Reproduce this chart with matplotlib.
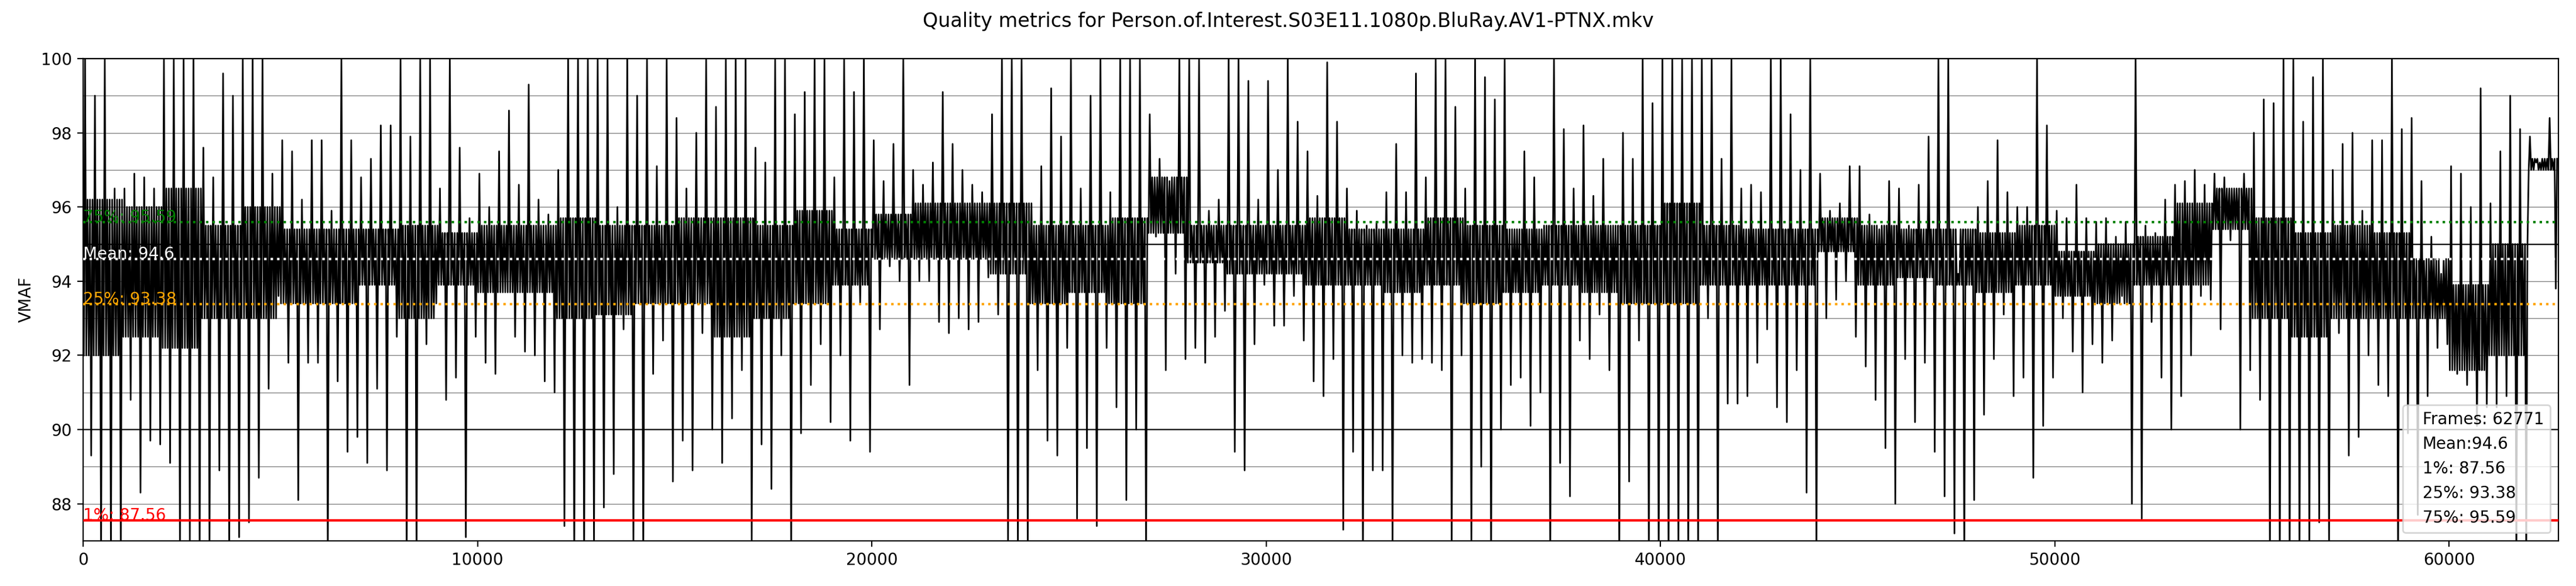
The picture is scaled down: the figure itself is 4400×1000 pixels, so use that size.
import numpy as np
import matplotlib
matplotlib.use('Agg')
import matplotlib.pyplot as plt
from matplotlib.lines import Line2D
from matplotlib.ticker import MultipleLocator

title = "Quality metrics for Person.of.Interest.S03E11.1080p.BluRay.AV1-PTNX.mkv"
frame_count = 62771
bin_size = 250    # frames per bin for the spike extremes
band_size = 1000  # frames per segment for the dense core band

mean_vmaf = 94.6
p1 = 87.56
p25 = 93.38
p75 = 95.59

# highest value seen in each 250 frame bin
vmaf_hi = [
    100, 99.0, 100, 96.5, 96.5, 96.9, 96.8, 96.5, 100, 100, 100, 100, 97.6, 96.8, 99.6, 99.0,
    100, 100, 100, 96.9, 97.8, 97.5, 96.2, 97.8, 97.8, 95.9, 100, 97.8, 96.8, 97.3, 98.2,
    98.2, 100, 97.9, 100, 100, 96.5, 100, 97.6, 95.7, 96.9, 96.0, 97.5, 98.6, 96.6, 99.3, 96.2,
    95.8, 97.0, 100, 100, 100, 100, 100, 96.0, 100, 99.0, 100, 97.1, 100, 98.4, 96.5, 98.0,
    100, 98.7, 100, 100, 100, 97.6, 97.2, 100, 100, 98.5, 99.1, 100, 100, 96.8, 100, 99.1,
    100, 97.8, 96.7, 97.7, 100, 97.0, 96.6, 97.2, 99.1, 97.7, 97.0, 96.6, 96.4, 98.5, 100,
    100, 100, 96.1, 97.1, 99.2, 97.9, 100, 96.5, 99.0, 100, 96.4, 100, 100, 100, 98.5, 97.3,
    96.7, 100, 100, 100, 95.9, 96.2, 100, 100, 99.4, 96.2, 99.4, 97.0, 100, 98.3, 97.5, 96.3,
    99.9, 98.3, 96.5, 95.9, 95.5, 95.6, 96.4, 97.7, 96.4, 99.6, 96.8, 100, 100, 98.7, 96.5, 100,
    99.5, 98.9, 100, 95.4, 97.5, 96.8, 95.5, 100, 98.1, 96.5, 98.2, 96.3, 97.3, 95.5, 98.0,
    97.3, 100, 98.8, 100, 100, 100, 100, 100, 100, 97.3, 100, 96.5, 96.6, 96.4, 100, 100,
    98.5, 97.0, 100, 96.9, 95.9, 96.1, 97.1, 97.1, 95.8, 95.4, 96.7, 96.5, 95.5, 96.6, 97.9, 100,
    100, 94.2, 95.4, 96.0, 96.7, 97.8, 96.4, 96.0, 96.0, 100, 98.2, 95.9, 95.7, 96.6, 95.7, 95.6,
    95.7, 95.2, 95.6, 100, 95.5, 95.3, 96.2, 96.6, 96.7, 97.0, 96.6, 96.9, 96.8, 96.5, 96.9,
    98.0, 98.9, 98.8, 100, 100, 98.3, 99.5, 100, 97.0, 97.7, 98.0, 95.9, 97.8, 97.8, 100, 98.1,
    98.4, 96.7, 95.2, 94.2, 97.1, 96.9, 96.0, 99.2, 96.1, 97.5, 99.0, 98.1, 97.9, 97.2, 98.4,
]

# lowest value seen in each 250 frame bin
vmaf_lo = [
    89.3, 86.5, 86.5, 86.5, 90.8, 88.3, 89.7, 89.6, 89.1, 86.8, 87.0, 86.5, 86.8, 88.9, 86.6, 87.1,
    87.5, 88.7, 91.1, 93.6, 91.8, 88.1, 91.8, 91.8, 86.5, 91.3, 89.4, 89.8, 89.1, 91.1, 88.9,
    92.5, 86.5, 86.5, 92.3, 93.4, 90.8, 91.4, 87.1, 92.5, 91.8, 91.5, 93.7, 92.5, 92.1, 92.0, 91.3,
    91.0, 87.4, 86.5, 86.5, 86.8, 87.9, 88.8, 92.7, 86.8, 86.5, 91.5, 92.4, 88.6, 89.7, 88.9, 92.6,
    90.0, 89.1, 90.3, 91.6, 87.0, 89.6, 88.4, 92.0, 86.5, 89.9, 91.2, 92.3, 90.2, 92.0, 89.7, 93.4,
    89.4, 92.7, 94.4, 94.0, 91.2, 94.0, 94.0, 92.9, 92.6, 93.0, 92.7, 92.9, 94.1, 93.1, 87.0,
    86.5, 86.5, 91.6, 89.7, 89.3, 92.2, 87.6, 89.5, 87.4, 92.2, 90.6, 88.1, 90.0, 86.5, 95.2, 91.6,
    94.2, 91.9, 92.2, 91.8, 92.5, 93.2, 89.4, 88.9, 92.3, 93.9, 92.8, 92.8, 93.6, 92.4, 91.3, 90.9,
    91.9, 87.3, 89.4, 86.5, 88.9, 88.9, 86.8, 92.0, 91.8, 91.9, 91.8, 91.6, 86.5, 92.0, 86.8, 89.0,
    86.5, 90.0, 91.2, 91.4, 90.1, 91.0, 86.5, 89.1, 88.2, 92.4, 91.9, 93.1, 91.6, 86.5, 88.6,
    92.4, 86.5, 86.5, 86.5, 86.8, 86.5, 86.5, 93.0, 86.5, 90.7, 90.7, 90.9, 91.8, 92.7, 90.6, 90.2,
    91.6, 88.3, 86.5, 93.0, 93.5, 94.0, 92.5, 91.7, 90.8, 89.5, 88.0, 91.9, 90.2, 91.8, 89.4, 88.2,
    87.2, 86.5, 88.1, 90.4, 91.9, 93.1, 90.9, 91.4, 88.7, 90.1, 91.4, 93.0, 92.1, 91.0, 92.3, 91.8,
    92.4, 93.6, 88.0, 87.6, 92.9, 91.4, 90.0, 90.9, 92.0, 93.6, 93.5, 92.7, 95.1, 90.0, 91.6,
    90.8, 86.5, 86.5, 86.5, 86.5, 86.8, 87.5, 86.8, 92.6, 89.3, 89.8, 92.0, 91.2, 90.9, 86.5, 89.9,
    87.7, 90.9, 92.2, 92.3, 91.5, 91.2, 90.1, 90.6, 90.6, 90.9, 86.5, 86.5, 97.2, 97.0, 93.8,
]

# top and bottom of the dense core the trace keeps returning to, per 1000 frames
core_hi = [
    96.2, 96.0, 96.5, 95.5, 96.0, 95.4, 95.4, 95.4,
    95.5, 95.3, 95.5, 95.5, 95.7, 95.5, 95.5, 95.7,
    95.7, 95.5, 95.9, 95.4, 95.8, 96.1, 96.1, 96.1,
    95.5, 95.5, 95.7, 96.8, 95.5, 95.5, 95.5, 95.7,
    95.4, 95.4, 95.7, 95.5, 95.4, 95.5, 95.5, 95.5,
    96.1, 95.5, 95.4, 95.4, 95.7, 95.5, 95.4, 95.4,
    95.3, 95.5, 94.8, 95.0, 95.2, 96.1, 96.5, 95.7,
    95.3, 95.5, 95.3, 94.6, 93.9, 95.0, 97.3,
]
core_lo = [
    92.0, 92.5, 92.2, 93.0, 93.0, 93.4, 93.4, 93.9,
    93.0, 93.9, 93.7, 93.7, 93.0, 93.1, 93.4, 93.4,
    92.5, 93.0, 93.4, 93.9, 94.6, 94.6, 94.6, 94.2,
    93.4, 93.7, 93.4, 95.3, 94.5, 94.2, 94.2, 93.9,
    93.9, 93.7, 93.9, 93.4, 93.7, 93.9, 93.7, 93.4,
    93.4, 93.9, 93.9, 93.9, 94.8, 93.9, 94.1, 93.9,
    93.7, 93.9, 93.6, 93.4, 93.9, 93.9, 95.4, 93.0,
    92.5, 93.0, 93.0, 93.0, 91.6, 92.0, 97.0,
]

legend_labels = [
    "Frames: {}".format(frame_count),
    "Mean:{}".format(mean_vmaf),
    "1%: {}".format(p1),
    "25%: {}".format(p25),
    "75%: {}".format(p75),
]

# each bin: peak out of the core bottom, wander in the core, trough out of the core top
hi = np.array(vmaf_hi)
lo = np.array(vmaf_lo)
seg = np.arange(len(hi)) * bin_size // band_size
c_hi = np.array(core_hi)[seg]
c_lo = np.array(core_lo)[seg]
vmaf = np.column_stack([c_lo, hi, c_lo, c_hi, c_lo, c_hi, lo, c_hi]).ravel()
frames = np.arange(len(vmaf)) * (bin_size / 8) + bin_size / 16

fig, ax = plt.subplots(figsize=(22, 5), dpi=200)
fig.subplots_adjust(left=0.0323, right=0.9932, bottom=0.077, top=0.9)
fig.suptitle(title)

ax.plot(frames, vmaf, color='black', linewidth=1.0, zorder=2)

ax.set_xlim(0, frame_count)
ax.set_ylim(87, 100)
ax.yaxis.set_major_locator(MultipleLocator(2))
ax.yaxis.set_minor_locator(MultipleLocator(1))
ax.tick_params(axis='y', which='minor', length=0)
ax.grid(which='both', axis='y', color='grey', linewidth=0.5)
for level in [90, 95]:
    ax.axhline(level, color='black', linewidth=0.8, zorder=1.6)

ax.axhline(p1, color='red', linewidth=1.5, zorder=3)
ax.axhline(p25, color='orange', linestyle=':', linewidth=1.5, zorder=3)
ax.axhline(mean_vmaf, color='white', linestyle=':', linewidth=1.5, zorder=3)
ax.axhline(p75, color='green', linestyle=':', linewidth=1.5, zorder=3)

ax.text(0, p1, "1%: {}".format(p1), color='red', zorder=4)
ax.text(0, p25, "25%: {}".format(p25), color='orange', zorder=4)
ax.text(0, mean_vmaf, "Mean: {}".format(mean_vmaf), color='white', zorder=4)
ax.text(0, p75, "75%: {}".format(p75), color='green', zorder=4)

ax.set_ylabel("VMAF")

blank = [Line2D([], [], linestyle='none') for _ in legend_labels]
ax.legend(blank, legend_labels, loc='lower right', handlelength=0)

fig.savefig('out.png', dpi=200)
